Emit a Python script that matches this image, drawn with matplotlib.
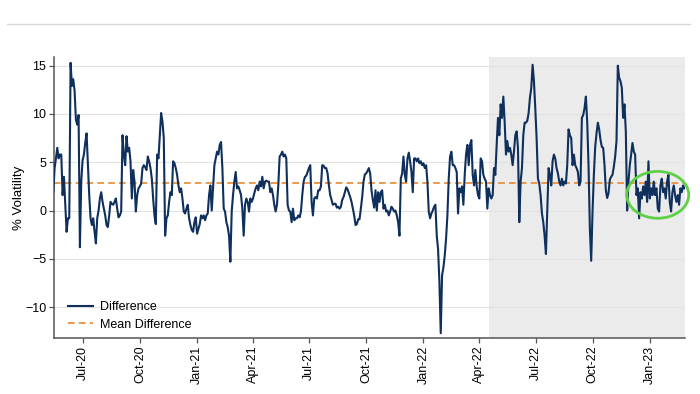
import numpy as np
import pandas as pd
import matplotlib
matplotlib.use('Agg')
import matplotlib.pyplot as plt
import matplotlib.dates as mdates
from matplotlib.patches import Ellipse
from matplotlib.lines import Line2D

plt.rcParams['font.family'] = ['Liberation Sans', 'DejaVu Sans']

# values, in order (mid-May 2020 -> late Feb 2023)
diff_2020 = [1.9, 4.4, 5.4, 6.5, 5.4, 5.8, 5.8, 1.6, 3.5, 0.6,
             -2.2, -0.8, -0.8, 15.3, 12.9, 13.6, 12.4, 9.4, 8.9, 9.9,
             -3.8, 3.0, 5.2, 5.8, 7.0, 8.0, 4.7, 1.6, -0.8, -1.5,
             -0.8, -2.2, -3.4, -0.8, 0.0, 1.25, 1.9, 0.9, 0.2, -0.5,
             -1.5, -1.7, -0.5, 0.9, 0.7, 0.6, 0.9, 1.25, 0.2, -0.7,
             -0.5, -0.1, 7.8, 5.8, 4.7, 7.7, 6.1, 6.5, 5.1, 1.25,
             4.2, 3.0, -0.1, 1.6, 2.3, 2.5, 2.8, 4.4, 4.7, 4.5,
             4.2, 5.6, 5.1, 4.4, 3.3, 1.25, -0.5, -1.4, 5.8, 5.4,
             7.8, 10.1, 9.2, 7.5, -2.6, -0.8, -0.5, 0.9, 1.9, 1.6,
             5.1, 4.9, 4.4, 3.7, 2.6]
diff_2021a = [1.9, 2.3, 1.25, -0.1, -0.3, 0.2, 0.6, -0.8, -1.5, -2.0,
              -2.2, -1.2, -0.7, -2.4, -1.9, -1.4, -0.5, -0.8, -0.5, -1.0,
              -0.5, -0.3, 1.6, 2.6, 0.0, 2.3, 4.7, 5.4, 6.1, 5.8,
              6.8, 7.1, 4.4, 0.2, -0.1, -1.2, -1.7, -2.6, -5.3, -0.1,
              1.6, 3.0, 4.0, 2.3, 2.5, 2.1, 1.6, 0.2, -2.6, 0.6,
              1.25, 0.9, -0.1, 1.25, 0.9, 1.25, 1.8, 2.3, 2.6, 2.1,
              3.0, 2.5, 3.5, 2.3, 3.0, 3.1, 3.0, 3.0, 1.9, 2.3,
              1.6, 0.6, -0.1, 0.6, 2.6, 5.6, 5.8, 6.1, 5.6, 5.8,
              5.4, 0.6, 0.0, -0.1, -1.2, 0.2, -1.0, -0.8, -0.8, -0.5,
              -0.7, -0.1, 1.6, 3.0, 3.5]
diff_2021b = [3.6, 4.0, 4.4, 4.7, 0.9, -0.5, 1.25, 1.4, 1.25, 2.1,
              2.1, 2.5, 4.7, 4.65, 4.4, 4.4, 3.85, 2.6, 1.6, 1.1,
              0.6, 0.7, 0.7, 0.3, 0.4, 0.2, 0.4, 1.1, 1.4, 1.9,
              2.4, 2.2, 1.8, 1.4, 0.9, 0.2, -0.5, -1.5, -1.4, -0.9,
              -0.9, 0.2, 1.4, 3.0, 3.75, 3.85, 4.1, 4.4, 3.85, 2.1,
              1.1, 0.3, 2.1, 0.0, 1.9, 0.9, 1.9, 2.1, 0.2, 0.6,
              -0.1, 0.0, -0.5, -0.1, 0.4, 0.2, -0.1, 0.0, -0.5, -1.2,
              -2.6, 3.3, 3.85, 5.6, 3.7, 3.0, 5.4, 6.0, 5.1, 4.0,
              1.9, 5.4, 5.4, 5.1, 5.4, 4.9, 5.1, 4.7, 4.9, 4.4,
              4.7, 3.0, -0.1, -0.8]
diff_2022a = [-0.3, 0.0, 0.4, 0.6, -2.6, -4.0, -7.4, -12.7, -6.7, -5.9,
              -4.65, -2.9, -0.5, 3.3, 5.6, 6.1, 4.7, 4.7, 4.4, 4.0,
              -0.3, 2.3, 1.9, 2.5, 0.6, 3.7, 5.8, 6.8, 4.7, 6.8,
              7.3, 3.7, 2.6, 4.2, 2.5, 1.6, 1.25, 5.4, 5.1, 3.7,
              3.3, 3.0, 0.2, 2.3, 1.6, 1.25, 1.6, 4.4, 3.7, 6.8,
              9.6, 7.8, 11.0, 9.6, 11.8, 9.2, 5.8, 7.2, 6.1, 6.5,
              5.8, 4.7, 6.1, 7.8, 8.2, 6.5, -1.2, 3.0, 4.4, 7.8,
              9.1, 9.1, 9.3, 10.1, 11.7, 12.7, 15.1, 13.4, 10.6, 7.5,
              3.3, 2.8, 1.6, -0.3, -1.2, -2.6, -4.5, -0.1, 4.4, 3.7,
              2.6, 5.1, 5.8, 5.4]
diff_2022b = [4.4, 3.85, 3.0, 2.6, 3.3, 2.6, 3.0, 2.8, 4.7, 8.4,
              7.8, 7.5, 4.7, 5.8, 4.7, 4.4, 4.0, 2.6, 3.0, 9.6,
              9.9, 10.6, 11.8, 9.2, 4.7, -1.9, -5.2, -0.1, 3.7, 6.6,
              8.0, 9.1, 8.4, 7.3, 6.6, 6.5, 4.7, 2.1, 1.3, 1.8,
              3.2, 3.5, 3.7, 4.55, 5.6, 7.2, 15.0, 13.75, 13.4, 12.7,
              9.6, 11.0, 8.2, 0.0, 3.0, 4.7, 5.8, 7.0, 6.1, 5.8,
              1.6, 2.3, -0.8, 1.9, 1.25, 2.5, 1.6, 3.0, 0.9, 5.1,
              1.25, 2.3, 1.6, 3.0, 1.6, 2.3, 0.2, -0.1, 2.6, 3.3,
              1.9, 2.3, 1.25, 3.0, 3.7, 0.9, -0.1, 1.9, 2.6, 1.6,
              0.9, 1.6, 0.6, 2.3, 1.9, 2.6, 2.3]

mean_diff = 2.85
start_date, end_date = '2020-05-14', '2023-02-26'
shade_start = '2022-04-17'

diff = np.concatenate([diff_2020, diff_2021a, diff_2021b, diff_2022a, diff_2022b])
dates = pd.date_range(start_date, end_date, periods=len(diff))

fig = plt.figure(figsize=(7, 3.94), dpi=100)
ax = fig.add_axes([0.077, 0.142, 0.9016, 0.7133])

ax.axvspan(pd.Timestamp(shade_start), pd.Timestamp('2023-02-27'), color='#ebebeb', zorder=0, lw=0)
ax.plot(dates, diff, color='#0f2f5c', lw=1.5, label='Difference', zorder=3)
ax.axhline(mean_diff, color='#e8892f', lw=1.2, ls=(0, (4, 2.5)), label='Mean Difference', zorder=2)

# green highlight around the last few weeks
ell = Ellipse((mdates.date2num(pd.Timestamp('2023-01-14')), 1.63), width=100, height=4.85,
              fill=False, edgecolor='#5fcf45', lw=2, clip_on=False, zorder=4)
ax.add_patch(ell)

ax.set_xlim(pd.Timestamp('2020-05-15'), pd.Timestamp('2023-02-27'))
ax.set_ylim(-13.2, 15.9)
ax.set_yticks([-10, -5, 0, 5, 10, 15])
ax.xaxis.set_major_locator(mdates.MonthLocator(bymonth=[1, 4, 7, 10]))
ax.xaxis.set_major_formatter(mdates.DateFormatter('%b-%y'))
plt.setp(ax.get_xticklabels(), rotation=90)

ax.grid(axis='y', color='#e3e3e3', lw=0.8)
ax.set_axisbelow(True)
for s in ['top', 'right']:
    ax.spines[s].set_visible(False)
for s in ['left', 'bottom']:
    ax.spines[s].set_color('#555555')
    ax.spines[s].set_linewidth(1.1)
ax.tick_params(axis='both', labelsize=9, color='#555555', length=3.5, width=0.9, pad=2)
ax.set_ylabel('% Volatility', fontsize=9.5)
ax.yaxis.set_label_coords(-0.045, 0.5)

ax.legend(loc='lower left', bbox_to_anchor=(0.01, 0.0), frameon=False, fontsize=9,
          handlelength=2.0, handletextpad=0.6, borderaxespad=0.2, borderpad=0.4,
          labelspacing=0.45)

fig.add_artist(Line2D([0.01, 0.985], [1 - 24 / 394] * 2, color='#d9d9d9', lw=1))

fig.savefig('out.png', dpi=100)
